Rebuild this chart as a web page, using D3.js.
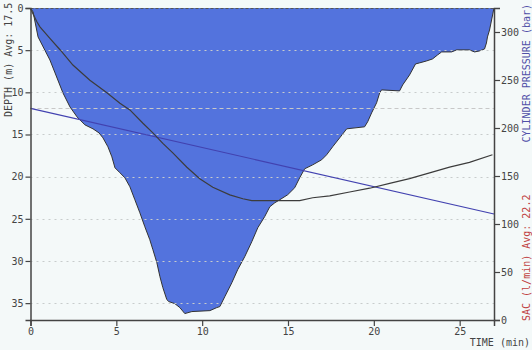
<!DOCTYPE html>
<html>
<head>
<meta charset="utf-8">
<script src="https://cdn.jsdelivr.net/npm/d3@7"></script>
<style>
  html, body { margin: 0; padding: 0; background: #f4f9f9; }
  svg { display: block; }
  text { font-family: "DejaVu Sans Mono", monospace; font-size: 10px; }
</style>
</head>
<body>
<div id="chart"></div>
<script>
// dive profile (time in min, depth in m)
var profileTime = [0, 0.15, 0.44, 1.13, 1.43, 1.89, 2.30, 2.71, 3.17, 3.64, 3.99, 4.22, 4.51, 4.74, 4.92,
  5.21, 5.50, 5.79, 6.08, 6.37, 6.66, 6.95, 7.13, 7.36, 7.54, 7.71, 7.94, 8.06, 8.41, 8.70, 8.99,
  9.40, 10.45, 10.85, 11.03, 11.32, 11.73, 12.07, 12.48, 12.89, 13.24, 13.64, 13.94, 14.23, 14.52,
  14.98, 15.39, 15.68, 15.97, 16.44, 16.96, 17.25, 17.60, 18.01, 18.42, 19.46, 19.64, 19.87, 20.16,
  20.34, 20.45, 21.50, 21.68, 22.08, 22.43, 22.66, 23.07, 23.42, 23.71, 23.95, 24.53, 24.82, 25.57,
  25.87, 26.16, 26.45, 26.56, 26.62, 26.74, 27.0];
var profileDepth = [0, 0.47, 3.43, 6.16, 7.70, 10.07, 11.73, 12.91, 13.86, 14.33, 14.81, 15.40, 16.46, 17.65, 18.95,
  19.54, 20.14, 21.20, 22.74, 24.28, 25.94, 27.48, 28.66, 30.20, 31.86, 33.16, 34.58, 34.82, 35.06, 35.53, 36.24,
  36.00, 35.89, 35.53, 35.41, 34.23, 32.57, 31.03, 29.49, 27.72, 26.06, 24.75, 23.57, 23.10, 22.74,
  22.15, 21.32, 20.14, 19.07, 18.60, 18.00, 17.41, 16.46, 15.40, 14.33, 14.09, 13.50, 12.44, 11.25,
  10.07, 9.71, 9.83, 9.12, 7.94, 6.63, 6.51, 6.28, 6.04, 5.57, 5.21, 5.21, 4.97, 4.97,
  5.21, 5.09, 4.86, 4.15, 3.43, 2.61, 0];

// SAC curve (l/min)
var sacTime = [0, 0.38, 0.55, 1.13, 1.72, 2.47, 3.46, 4.45, 5.21, 5.79, 6.55, 7.13, 7.71, 8.29, 9.11, 9.86,
  10.62, 11.61, 12.37, 12.89, 14.52, 15.68, 16.44, 17.43, 18.59, 19.76, 20.92, 22.08, 23.25, 24.41, 25.57, 26.91];
var sacValues = [32.6, 31.2, 30.7, 29.5, 28.3, 26.7, 25.1, 23.8, 22.7, 22.0, 20.6, 19.6, 18.5, 17.5, 16.0, 14.8,
  13.9, 13.1, 12.7, 12.5, 12.5, 12.5, 12.8, 13.0, 13.4, 13.8, 14.3, 14.8, 15.4, 16.0, 16.5, 17.3];

// cylinder pressure (bar)
var pressureTime = [0, 27];
var pressureValues = [220.5, 110.4];

var depthTicks = [0, 5, 10, 15, 20, 25, 30, 35];
var timeTicks = [0, 5, 10, 15, 20, 25];
var pressureTicks = [0, 50, 100, 150, 200, 250, 300];
var depthAvg = 17.5;
var sacAvg = 22.2;

var svgWidth = 532;
var svgHeight = 350;
var margin = { top: 8, right: 38, bottom: 30, left: 30.5 };
var chartWidth = svgWidth - margin.left - margin.right;
var chartHeight = svgHeight - margin.top - margin.bottom;

var svg = d3.select("#chart")
  .append("svg")
  .attr("width", svgWidth)
  .attr("height", svgHeight);

var chartGroup = svg.append("g")
  .attr("transform", `translate(${margin.left}, ${margin.top})`);

var xScale = d3.scaleLinear().domain([0, 27]).range([0, chartWidth]);
var yDepth = d3.scaleLinear().domain([0, 37]).range([0, chartHeight]);
var yPressure = d3.scaleLinear().domain([0, 325]).range([chartHeight, 0]);
var ySac = d3.scaleLinear().domain([0, 32.67]).range([chartHeight, 0]);

var profile = profileTime.map((t, i) => ({ t: t, d: profileDepth[i] }));
var sac = sacTime.map((t, i) => ({ t: t, v: sacValues[i] }));
var pressure = pressureTime.map((t, i) => ({ t: t, v: pressureValues[i] }));

// depth area
chartGroup.append("path")
  .datum(profile)
  .attr("fill", "#5373dd")
  .attr("d", d3.area().x(d => xScale(d.t)).y0(0).y1(d => yDepth(d.d)));

chartGroup.append("path")
  .datum(profile)
  .attr("fill", "none")
  .attr("stroke", "#333")
  .attr("stroke-width", 1)
  .attr("d", d3.line().x(d => xScale(d.t)).y(d => yDepth(d.d)));

// dotted grid
chartGroup.selectAll("line.grid")
  .data(depthTicks.filter(d => d > 0))
  .enter()
  .append("line")
  .attr("class", "grid")
  .attr("x1", 0)
  .attr("x2", chartWidth)
  .attr("y1", d => Math.round(yDepth(d)) + 0.5)
  .attr("y2", d => Math.round(yDepth(d)) + 0.5)
  .attr("stroke", "#c8cccc")
  .attr("stroke-dasharray", "2,4");

// SAC average dashed line
chartGroup.append("line")
  .attr("x1", 0)
  .attr("x2", chartWidth)
  .attr("y1", Math.round(ySac(sacAvg)) + 0.5)
  .attr("y2", Math.round(ySac(sacAvg)) + 0.5)
  .attr("stroke", "#c8c8c8")
  .attr("stroke-dasharray", "4,3");

// top dashed line
chartGroup.append("line")
  .attr("x1", 0)
  .attr("x2", chartWidth)
  .attr("y1", 0.5)
  .attr("y2", 0.5)
  .attr("stroke", "#555")
  .attr("stroke-dasharray", "3,2");

// pressure line
chartGroup.append("path")
  .datum(pressure)
  .attr("fill", "none")
  .attr("stroke", "#4242b0")
  .attr("stroke-width", 1.2)
  .attr("d", d3.line().x(d => xScale(d.t)).y(d => yPressure(d.v)));

// SAC curve
chartGroup.append("path")
  .datum(sac)
  .attr("fill", "none")
  .attr("stroke", "#3c3c3c")
  .attr("stroke-width", 1.2)
  .attr("d", d3.line().x(d => xScale(d.t)).y(d => ySac(d.v)));

// axes
var leftAxis = d3.axisLeft(yDepth).tickValues(depthTicks).tickSize(5).tickPadding(2);
var bottomAxis = d3.axisBottom(xScale).tickValues(timeTicks).tickSize(6).tickPadding(2);
var rightAxis = d3.axisRight(yPressure).tickValues(pressureTicks).tickSize(6).tickPadding(1);

var gLeft = chartGroup.append("g").call(leftAxis);
var gBottom = chartGroup.append("g")
  .attr("transform", `translate(0, ${chartHeight})`)
  .call(bottomAxis);
var gRight = chartGroup.append("g")
  .attr("transform", `translate(${chartWidth}, 0)`)
  .call(rightAxis);

[gLeft, gBottom, gRight].forEach(g => {
  g.select(".domain").attr("stroke", "#444").attr("stroke-width", 1.5);
  g.selectAll(".tick line").attr("stroke", "#444").attr("stroke-width", 1.2);
  g.selectAll(".tick text")
    .attr("fill", "#444")
    .style("font-family", "DejaVu Sans Mono, monospace")
    .style("font-size", "10px");
});

// axis titles
svg.append("text")
  .attr("transform", "translate(12, 117) rotate(-90)")
  .attr("fill", "#444")
  .text("DEPTH (m) Avg: " + depthAvg);

svg.append("text")
  .attr("transform", "translate(529.5, 4) rotate(-90)")
  .attr("text-anchor", "end")
  .attr("fill", "#5050a8")
  .text("CYLINDER PRESSURE (bar)");

svg.append("text")
  .attr("transform", "translate(529.5, 321) rotate(-90)")
  .attr("fill", "#c04040")
  .text("SAC (l/min) Avg: " + sacAvg);

svg.append("text")
  .attr("x", 530)
  .attr("y", 346)
  .attr("text-anchor", "end")
  .attr("fill", "#444")
  .text("TIME (min)");
</script>
</body>
</html>
